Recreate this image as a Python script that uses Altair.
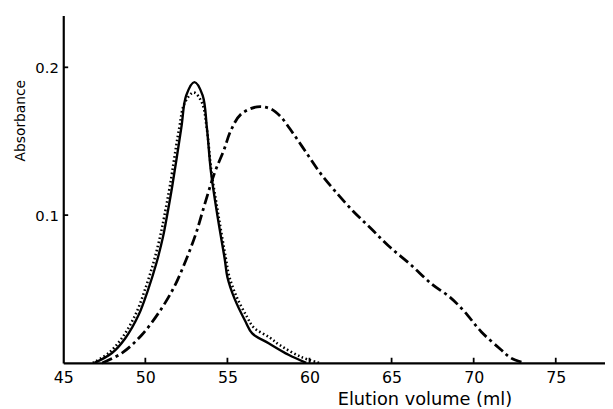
import altair as alt
import pandas as pd

# Solid curve
solid_x = [46.9, 47.97, 48.78, 49.58, 50.18, 50.68, 51.08, 51.28, 51.63, 52.19, 52.49, 52.99, 53.49, 53.75, 53.99,
           54.40, 54.84, 55.0, 55.44, 56.1, 56.51, 57.51, 58.72, 59.8]
solid_y = [0.0, 0.0067, 0.0167, 0.0322, 0.05, 0.0678, 0.0855, 0.097, 0.119, 0.159, 0.181, 0.19, 0.181, 0.159, 0.13,
           0.099, 0.07, 0.058, 0.0433, 0.028, 0.02, 0.0133, 0.0055, 0.0]

# Dotted curve
dotted_x = [46.8, 47.8, 48.65, 49.45, 50.05, 50.55, 50.95, 51.15, 51.5, 52.05, 52.4, 52.95, 53.45, 53.75, 54.02,
            54.45, 54.9, 55.1, 55.55, 56.2, 56.6, 57.6, 58.2, 59.5, 60.6]
dotted_y = [0.0, 0.007, 0.018, 0.034, 0.052, 0.07, 0.088, 0.099, 0.12, 0.158, 0.176, 0.183, 0.176, 0.158, 0.13,
            0.1, 0.071, 0.059, 0.045, 0.031, 0.024, 0.017, 0.012, 0.004, 0.0]

# Dash-dot curve
dashdot_x = [47.37, 48.57, 49.78, 50.98, 51.79, 52.49, 53.09, 53.60, 54.20, 54.80, 55.20, 55.80, 56.81, 57.61,
             58.21, 59.02, 59.82, 60.62, 61.52, 62.63, 63.73, 64.84, 66.14, 67.45, 68.55, 69.46, 70.46, 71.67,
             72.27, 73.07]
dashdot_y = [0.0, 0.0067, 0.0189, 0.0367, 0.0522, 0.07, 0.0878, 0.1067, 0.128, 0.1445, 0.157, 0.168, 0.1733, 0.172,
             0.167, 0.155, 0.142, 0.129, 0.1167, 0.103, 0.0911, 0.0789, 0.0667, 0.0533, 0.0445, 0.0345, 0.0211,
             0.0089, 0.0033, 0.0]

x_tick_values = [45, 50, 55, 60, 65, 70, 75]
y_tick_values = [0.1, 0.2]

FONT = "DejaVu Sans"
X_DOMAIN = [45, 78]
Y_DOMAIN = [0, 0.235]

xs = alt.Scale(domain=X_DOMAIN, nice=False, zero=False)
ys = alt.Scale(domain=Y_DOMAIN, nice=False, zero=False)

def frame(xv, yv):
    return pd.DataFrame({"x": xv, "y": yv, "i": range(len(xv))})

x_axis = alt.Axis(values=x_tick_values, ticks=False, grid=False, domainColor="black", domainWidth=2.2,
                  labelFont=FONT, labelFontSize=16, labelColor="black", labelPadding=7,
                  title="Elution volume (ml)", titleFont=FONT, titleFontSize=18, titleFontWeight="normal",
                  titleColor="black", titleX=366, titleY=42, titleBaseline="alphabetic",
                  labelFlush=False)
y_axis = alt.Axis(values=y_tick_values, ticks=False, grid=False, domainColor="black", domainWidth=2.2,
                  labelFont=FONT, labelFontSize=15, labelColor="black", labelPadding=5, format=".1f",
                  title="Absorbance", titleFont=FONT, titleFontSize=14, titleFontWeight="normal",
                  titleColor="black", titleX=-39, titleY=106, titleAngle=-90, titleBaseline="alphabetic")

base_x = alt.X("x:Q", scale=xs, axis=x_axis)
base_y = alt.Y("y:Q", scale=ys, axis=y_axis)

dotted = alt.Chart(frame(dotted_x, dotted_y)).mark_line(
    color="black", strokeWidth=2.6, strokeDash=[1.6, 2.6], interpolate="catmull-rom"
).encode(x=base_x, y=base_y, order="i:Q")

solid = alt.Chart(frame(solid_x, solid_y)).mark_line(
    color="black", strokeWidth=2.4, interpolate="catmull-rom"
).encode(x=alt.X("x:Q", scale=xs), y=alt.Y("y:Q", scale=ys), order="i:Q")

dashdot = alt.Chart(frame(dashdot_x, dashdot_y)).mark_line(
    color="black", strokeWidth=2.8, strokeDash=[11, 4, 3, 4], interpolate="catmull-rom"
).encode(x=alt.X("x:Q", scale=xs), y=alt.Y("y:Q", scale=ys), order="i:Q")

xt = pd.DataFrame({"t": x_tick_values[1:], "a": [0.0] * 6, "b": [0.0035] * 6})
x_ticks = alt.Chart(xt).mark_rule(color="black", strokeWidth=1.8).encode(
    x=alt.X("t:Q", scale=xs), y=alt.Y("a:Q", scale=ys), y2="b:Q"
)
yt = pd.DataFrame({"t": y_tick_values, "a": [45.0, 45.0], "b": [45.3, 45.3]})
y_ticks = alt.Chart(yt).mark_rule(color="black", strokeWidth=1.8).encode(
    y=alt.Y("t:Q", scale=ys), x=alt.X("a:Q", scale=xs), x2="b:Q"
)

chart = alt.layer(dotted, solid, dashdot, x_ticks, y_ticks).properties(
    width=549, height=352,
    autosize=alt.AutoSizeParams(type="none"),
    padding={"left": 56, "top": 5, "right": 0, "bottom": 44},
    background="white",
).configure_view(stroke=None)

chart.save("out.html", embed_options={"renderer": "svg", "actions": False})
